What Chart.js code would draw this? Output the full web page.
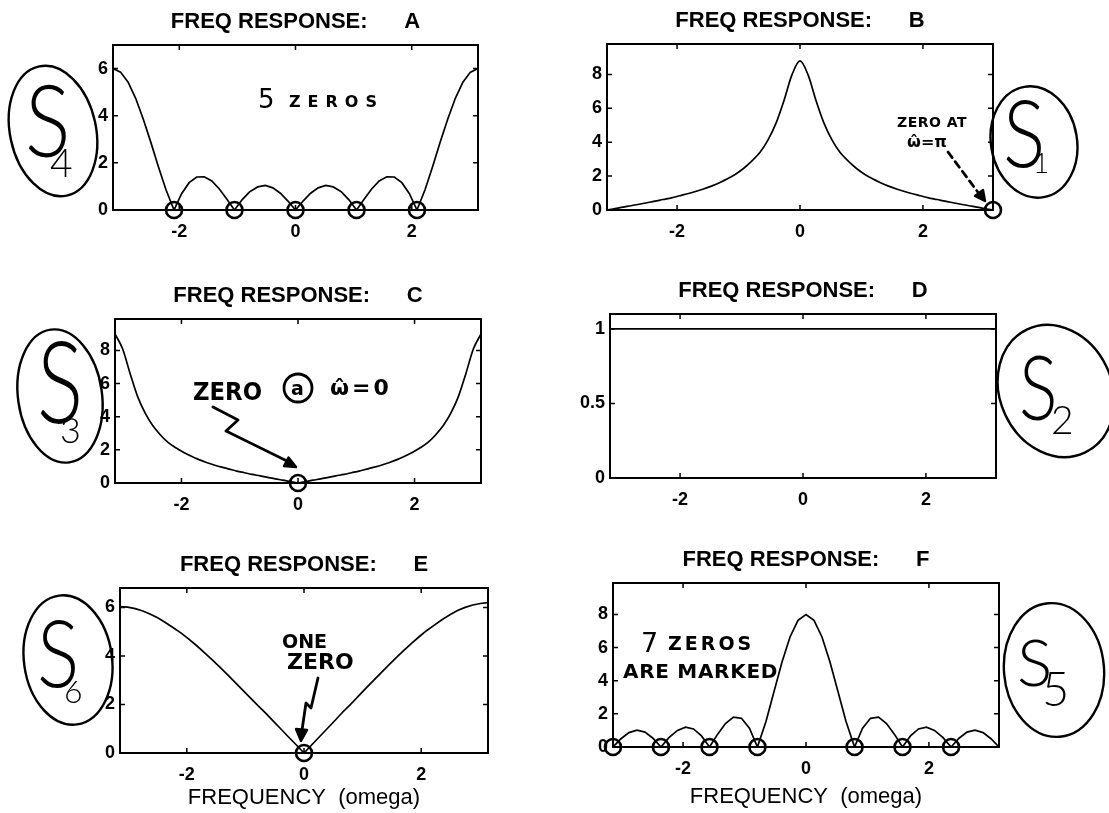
<!DOCTYPE html>
<html><head><meta charset="utf-8">
<script src="https://cdn.jsdelivr.net/npm/chart.js@4.4.1/dist/chart.umd.min.js"></script>
<style>
html,body{margin:0;padding:0;background:#fff;}
#page{position:relative;width:1109px;height:813px;overflow:hidden;background:#fff;}
#page canvas{position:absolute;}
#page svg{position:absolute;left:0;top:0;}
.hw{position:absolute;color:#000;white-space:nowrap;line-height:1;transform-origin:0 0;}
</style></head><body>
<div id="page">
<svg id="ink" width="1109" height="813" viewBox="0 0 1109 813" fill="none" stroke="#000" stroke-width="2.4" stroke-linecap="round" stroke-linejoin="round">
  <ellipse cx="53" cy="131" rx="43" ry="66" transform="rotate(-12 53 131)"/>
  <ellipse cx="1034" cy="142" rx="43" ry="56" transform="rotate(-10 1034 142)"/>
  <ellipse cx="60" cy="396" rx="42" ry="67" transform="rotate(-8 60 396)"/>
  <ellipse cx="1056" cy="391" rx="56" ry="68" transform="rotate(-25 1056 391)"/>
  <ellipse cx="68" cy="660" rx="44" ry="65" transform="rotate(-8 68 660)"/>
  <ellipse cx="1054" cy="670" rx="50" ry="67" transform="rotate(-5 1054 670)"/>
  <path d="M948,152 L980,195" stroke-dasharray="7 5" stroke-width="2.8"/>
  <polygon points="985,201 975,196 983,190" fill="#000"/>
  <path d="M213,407 L238,420 L226,431 L287,461" stroke-width="2.8"/>
  <polygon points="296,467 284,466 288.5,457.6" fill="#000"/>
  <circle cx="298" cy="388" r="14" stroke-width="2.8"/>
  <path d="M318,678 L311,708 L306,703 L302,730" stroke-width="2.8"/>
  <polygon points="301,741 296,729 307,730" fill="#000"/>
</svg>
</div>
<script>
// ---------------- data ----------------
const omega = [-3.14,-3.01,-2.88,-2.75,-2.62,-2.49,-2.36,-2.23,-2.09,-1.96,-1.83,-1.70,-1.57,-1.44,-1.31,-1.18,-1.05,-0.92,-0.79,-0.65,-0.52,-0.39,-0.26,-0.13,0,0.13,0.26,0.39,0.52,0.65,0.79,0.92,1.05,1.18,1.31,1.44,1.57,1.70,1.83,1.96,2.09,2.23,2.36,2.49,2.62,2.75,2.88,3.01,3.14];
const omegaD = [-3.14, 3.14];
const xTicks = [-2, 0, 2];

const magA = [6.0,5.85,5.42,4.74,3.86,2.88,1.85,0.87,0,0.69,1.16,1.40,1.41,1.23,0.89,0.46,0,0.43,0.77,0.98,1.04,0.94,0.71,0.38,0,0.38,0.71,0.94,1.04,0.98,0.77,0.43,0,0.46,0.89,1.23,1.41,1.40,1.16,0.69,0,0.87,1.85,2.88,3.86,4.74,5.42,5.85,6.0];
const magB = [0,0.08,0.17,0.25,0.34,0.43,0.52,0.62,0.72,0.84,0.96,1.09,1.24,1.41,1.61,1.84,2.11,2.45,2.87,3.41,4.14,5.13,6.47,7.99,8.8,7.99,6.47,5.13,4.14,3.41,2.87,2.45,2.11,1.84,1.61,1.41,1.24,1.09,0.96,0.84,0.72,0.62,0.52,0.43,0.34,0.25,0.17,0.08,0];
const magC = [9.0,8.1,6.6,5.2,4.2,3.45,2.9,2.45,2.11,1.84,1.61,1.41,1.24,1.09,0.96,0.84,0.72,0.62,0.52,0.43,0.34,0.25,0.17,0.08,0,0.08,0.17,0.25,0.34,0.43,0.52,0.62,0.72,0.84,0.96,1.09,1.24,1.41,1.61,1.84,2.11,2.45,2.9,3.45,4.2,5.2,6.6,8.1,9.0];
const magD = [1, 1];
const magE = [6.03,6.01,5.95,5.85,5.72,5.56,5.37,5.16,4.93,4.68,4.42,4.14,3.85,3.55,3.24,2.92,2.6,2.28,1.96,1.63,1.3,0.98,0.65,0.33,0,0.33,0.66,0.99,1.32,1.66,1.99,2.32,2.65,2.97,3.29,3.61,3.92,4.22,4.51,4.78,5.04,5.28,5.5,5.7,5.87,6.0,6.1,6.16,6.2];
const magF = [0,0.5,0.87,1.02,0.9,0.53,0,0.56,1.0,1.2,1.09,0.67,0,0.76,1.42,1.8,1.73,1.13,0,1.56,3.35,5.13,6.64,7.65,8,7.65,6.64,5.13,3.35,1.56,0,1.13,1.73,1.8,1.42,0.76,0,0.67,1.09,1.2,1.0,0.56,0,0.53,0.9,1.02,0.87,0.5,0];

const zerosA = [-2.09,-1.05,0,1.05,2.09];
const zerosB = [3.14];
const zerosC = [0];
const zerosD = [];
const zerosE = [0];
const zerosF = [-3.14,-2.36,-1.57,-0.79,0.79,1.57,2.36];

const yTicksA = [0,2,4,6];
const yTicksB = [0,2,4,6,8];
const yTicksC = [0,2,4,6,8];
const yTicksD = [0,0.5,1];
const yTicksE = [0,2,4,6];
const yTicksF = [0,2,4,6,8];

// ---------------- layout / style ----------------
const SANS = "'Liberation Sans', Arial, Helvetica, sans-serif";
const titleFont = {family: SANS, size: 22, weight: 'bold', lineHeight: 1};
const tickFont = {family: SANS, size: 18, weight: 'bold'};
const axisFont = {family: SANS, size: 22, weight: 'normal', lineHeight: 1};

const panels = [
  {name:'A', L:113, T:45,  R:478, B:210, ymax:7,   yTicks:yTicksA, xs:omega,  ys:magA, zeros:zerosA, smooth:false},
  {name:'B', L:607, T:44,  R:993, B:210, ymax:9.8, yTicks:yTicksB, xs:omega,  ys:magB, zeros:zerosB, smooth:true},
  {name:'C', L:115, T:319, R:481, B:483, ymax:9.9, yTicks:yTicksC, xs:omega,  ys:magC, zeros:zerosC, smooth:true},
  {name:'D', L:610, T:314, R:996, B:478, ymax:1.1, yTicks:yTicksD, xs:omegaD, ys:magD, zeros:zerosD, smooth:false},
  {name:'E', L:120, T:588, R:488, B:753, ymax:6.8, yTicks:yTicksE, xs:omega,  ys:magE, zeros:zerosE, smooth:false, xlabel:45},
  {name:'F', L:613, T:583, R:999, B:747, ymax:9.9, yTicks:yTicksF, xs:omega,  ys:magF, zeros:zerosF, smooth:false, xlabel:50}
];

const framePlugin = {
  id: 'frame',
  beforeDatasetsDraw(chart) {
    const {ctx, chartArea: a, scales} = chart;
    ctx.save();
    ctx.strokeStyle = '#000';
    ctx.lineWidth = 2;
    ctx.strokeRect(a.left, a.top, a.right - a.left, a.bottom - a.top);
    ctx.lineWidth = 1.5;
    ctx.beginPath();
    scales.x.ticks.forEach(t => {
      const px = scales.x.getPixelForValue(t.value);
      ctx.moveTo(px, a.bottom); ctx.lineTo(px, a.bottom - 5);
      ctx.moveTo(px, a.top); ctx.lineTo(px, a.top + 5);
    });
    scales.y.ticks.forEach(t => {
      const py = scales.y.getPixelForValue(t.value);
      ctx.moveTo(a.left, py); ctx.lineTo(a.left + 5, py);
      ctx.moveTo(a.right, py); ctx.lineTo(a.right - 5, py);
    });
    ctx.stroke();
    ctx.restore();
  }
};

const page = document.getElementById('page');
const ink = document.getElementById('ink');
const M = 60, MT = 45;

panels.forEach(p => {
  const mB = p.xlabel ? 66 : 40;
  const w = M + (p.R - p.L) + M;
  const h = MT + (p.B - p.T) + mB;
  const c = document.createElement('canvas');
  c.width = w; c.height = h;
  c.style.left = (p.L - M) + 'px';
  c.style.top = (p.T - MT) + 'px';
  c.style.width = w + 'px';
  c.style.height = h + 'px';
  page.insertBefore(c, ink);
  new Chart(c, {
    type: 'line',
    data: {
      datasets: [
        {
          data: p.xs.map((x, i) => ({x: x, y: p.ys[i]})),
          borderColor: '#000', borderWidth: 1.7, pointRadius: 0, fill: false,
          tension: p.smooth ? 0.4 : 0,
          cubicInterpolationMode: p.smooth ? 'monotone' : 'default'
        },
        {
          data: p.zeros.map(x => ({x: x, y: 0})),
          showLine: false, pointRadius: 8, pointBorderWidth: 2.6,
          pointBorderColor: '#000', pointBackgroundColor: 'rgba(0,0,0,0)',
          clip: false
        }
      ]
    },
    options: {
      responsive: false, animation: false, devicePixelRatio: 1,
      layout: {padding: 0},
      plugins: {
        legend: {display: false},
        tooltip: {enabled: false},
        title: {display: true, text: 'FREQ RESPONSE:      ' + p.name, color: '#000',
                font: titleFont, padding: {top: 11, bottom: 12}}
      },
      scales: {
        x: {
          type: 'linear', min: omega[0], max: omega[omega.length - 1],
          grid: {display: false, drawTicks: false}, border: {display: false},
          afterBuildTicks: s => { s.ticks = xTicks.map(v => ({value: v})); },
          ticks: {color: '#000', font: tickFont, padding: 11, maxRotation: 0, autoSkip: false,
                  callback: v => String(v)},
          title: p.xlabel ? {display: true, text: 'FREQUENCY  (omega)', color: '#000', font: axisFont,
                             padding: {top: 0, bottom: mB - 11 - p.xlabel}} : {display: false},
          afterFit: s => { s.height = mB; }
        },
        y: {
          type: 'linear', position: 'left', min: 0, max: p.ymax,
          grid: {display: false, drawTicks: false}, border: {display: false},
          afterBuildTicks: s => { s.ticks = p.yTicks.map(v => ({value: v})); },
          ticks: {color: '#000', font: tickFont, padding: 5, autoSkip: false,
                  callback: v => String(v)},
          afterFit: s => { s.width = M; }
        },
        yRight: {
          type: 'linear', position: 'right', min: 0, max: 1,
          grid: {display: false, drawTicks: false}, border: {display: false},
          ticks: {display: false},
          afterFit: s => { s.width = M; }
        }
      }
    },
    plugins: [framePlugin]
  });
});

// ---------------- handwritten notes (real text) ----------------
const HAND = "'DejaVu Sans', sans-serif";
const LIGHT = "Lato, Inter, 'Noto Sans', sans-serif";
function note(str, x, baseline, size, opts) {
  opts = opts || {};
  const d = document.createElement('div');
  d.className = 'hw';
  d.textContent = str;
  const fam = opts.family || HAND;
  const asc = fam === HAND ? 0.846 : 0.887;
  d.style.fontFamily = fam;
  d.style.fontSize = size + 'px';
  d.style.fontWeight = opts.weight || 'bold';
  d.style.left = x + 'px';
  d.style.top = (baseline - asc * size) + 'px';
  if (opts.ls) d.style.letterSpacing = opts.ls + 'px';
  if (opts.sx) d.style.transform = 'scaleX(' + opts.sx + ')';
  page.appendChild(d);
}
note('5', 258, 108, 26, {weight: 'normal'});
note('ZEROS', 289, 108, 16, {ls: 7});
note('ZERO AT', 897, 127, 14, {ls: 0.5});
note('\u03C9\u0302=\u03C0', 907, 148, 16);
note('ZERO', 193, 400, 24, {sx: 0.95});
note('a', 291, 395, 19);
note('\u03C9\u0302=0', 330, 396, 22, {ls: 3});
note('ONE', 282, 648, 19);
note('ZERO', 287, 670, 22);
note('7', 641, 652, 27, {weight: 'normal'});
note('ZEROS', 668, 650, 19, {ls: 3});
note('ARE MARKED', 623, 678, 20, {ls: 0.7});
// circled system labels
note('S', 25, 157, 100, {family: LIGHT, weight: 300, sx: 0.85});
note('4', 50, 178, 39, {family: LIGHT, weight: 300});
note('S', 1003, 167, 93, {family: LIGHT, weight: 300, sx: 0.85});
note('1', 1033, 173, 28, {family: LIGHT, weight: 300});
note('S', 37, 423, 115, {family: LIGHT, weight: 300, sx: 0.75});
note('3', 60, 443, 36, {family: LIGHT, weight: 300});
note('S', 1019, 420, 90, {family: LIGHT, weight: 300, sx: 0.8});
note('2', 1051, 435, 39, {family: LIGHT, weight: 300});
note('S', 37, 687, 93, {family: LIGHT, weight: 300, sx: 0.85});
note('6', 64, 703, 32, {family: LIGHT, weight: 300});
note('S', 1017, 687, 66, {family: LIGHT, weight: 300});
note('5', 1042, 707, 47, {family: LIGHT, weight: 300});
</script>
</body></html>
